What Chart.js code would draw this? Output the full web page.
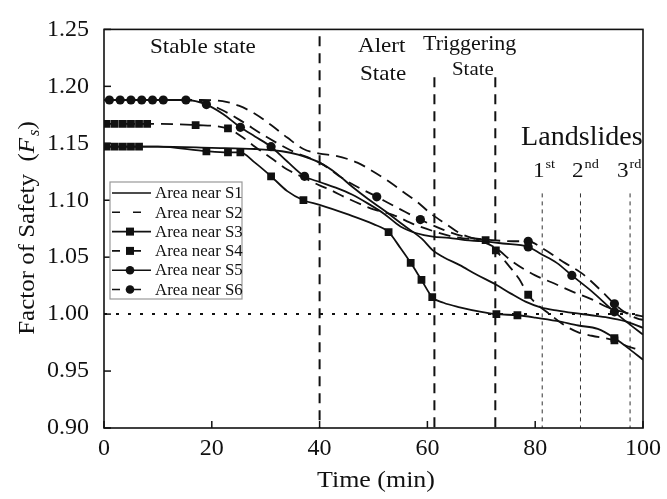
<!DOCTYPE html>
<html>
<head>
<meta charset="utf-8">
<script src="https://cdn.jsdelivr.net/npm/chart.js@4.4.0/dist/chart.umd.min.js"></script>
<style>
html, body { margin: 0; padding: 0; background: #fff; }
#wrap { width: 667px; height: 499px; }
</style>
</head>
<body>
<div id="wrap"><canvas id="c" width="667" height="499"></canvas></div>
<script>
// time (min), factor of safety
const s1Curve = [[0,1.147],[10,1.147],[20,1.146],[28,1.145],[33,1.143],[36,1.140],[40,1.133],[43,1.124],[46,1.112],[49,1.101],[52,1.091],[55.6,1.078],[59,1.066],[61,1.056],[63,1.050],[66,1.043],[69,1.035],[72.7,1.026],[75.5,1.018],[78.2,1.011],[81,1.006],[84.2,1.003],[87,1.001],[90.4,0.999],[93.5,0.997],[96.5,0.994],[100,0.988]]
const s2Curve = [[0,1.188],[10,1.188],[18,1.188],[22,1.187],[25,1.183],[28,1.176],[31,1.166],[34,1.155],[37,1.145],[40,1.141],[43,1.139],[47,1.133],[50,1.125],[53,1.116],[55.6,1.107],[58,1.099],[60.7,1.088],[63.5,1.079],[66,1.071],[70,1.064],[72.7,1.058],[75.8,1.046],[80,1.034],[83,1.028],[86.8,1.020],[90.5,1.013],[93.4,1.006],[97.8,1.000],[100,0.998]]
const s3Curve = [[0,1.147],[10,1.147],[19,1.143],[23,1.142],[25.3,1.142],[28,1.133],[31,1.121],[34,1.108],[37,1.100],[40,1.096],[45,1.088],[50,1.079],[52.8,1.072],[55,1.058],[56.9,1.045],[58.9,1.030],[60.9,1.015],[63,1.010],[66,1.006],[70,1.002],[72.8,1.000],[76.7,0.999],[80,0.997],[84,0.994],[88,0.990],[91.6,0.987],[94.7,0.979],[97,0.971],[100,0.960]]
const s3Marks = [[0.5,1.147],[2,1.147],[3.5,1.147],[5,1.147],[6.5,1.147],[19,1.143],[23,1.142],[25.3,1.142],[31,1.121],[37,1.100],[52.8,1.072],[56.9,1.045],[58.9,1.030],[60.9,1.015],[72.8,1.000],[76.7,0.999],[94.7,0.979]]
const s4Curve = [[0,1.167],[10,1.167],[17,1.166],[23,1.163],[25.5,1.156],[28,1.147],[31,1.137],[34,1.127],[37,1.120],[40,1.113],[42,1.109],[45,1.102],[50,1.092],[53.7,1.087],[57.4,1.079],[61,1.073],[64.8,1.068],[68,1.066],[70.8,1.065],[72.7,1.056],[75,1.043],[77,1.031],[78.7,1.017],[80.5,1.008],[82.4,1.001],[85.5,0.990],[88,0.984],[90.5,0.981],[94.7,0.977],[97,0.972],[99,0.969]]
const s4Marks = [[0.5,1.167],[2,1.167],[3.5,1.167],[5,1.167],[6.5,1.167],[8,1.167],[17,1.166],[23,1.163],[70.8,1.065],[72.7,1.056],[78.7,1.017],[94.7,0.977]]
const s5Curve = [[0,1.188],[10,1.188],[15.2,1.188],[19,1.184],[22,1.176],[25.3,1.164],[28,1.156],[31,1.147],[34,1.134],[37.2,1.121],[40,1.116],[43,1.111],[46,1.105],[49,1.097],[52,1.088],[55,1.077],[58,1.071],[61,1.068],[64,1.067],[67,1.065],[70,1.064],[74,1.062],[78.7,1.059],[81,1.053],[84,1.045],[86.8,1.034],[90.5,1.020],[94.7,1.002],[97,0.993],[100,0.982]]
const s5Marks = [[1,1.188],[3,1.188],[5,1.188],[7,1.188],[9,1.188],[11,1.188],[15.2,1.188],[19,1.184],[25.3,1.164],[31,1.147],[37.2,1.121],[78.7,1.059],[86.8,1.034],[94.7,1.002]]
const s6Curve = [[0,1.188],[10,1.188],[15.2,1.188],[19,1.185],[22,1.179],[25,1.171],[30,1.156],[35,1.143],[40,1.133],[45,1.117],[50.6,1.103],[55,1.092],[58.7,1.083],[63,1.074],[67,1.068],[72,1.065],[76,1.064],[78.7,1.064],[81.3,1.058],[85.5,1.045],[88.6,1.036],[92.8,1.018],[94.7,1.009],[96.5,1.002],[99,0.996],[100,0.995]]
const s6Marks = [[50.6,1.103],[58.7,1.083],[78.7,1.064],[94.7,1.009]]

const seriesNames = ['Area near S1','Area near S2','Area near S3','Area near S4','Area near S5','Area near S6']
const stageLines = [40, 61.3, 72.6]
const slideLines = [81.3, 88.4, 97.6]
const safeLevel = 1.00

const serif = '"Liberation Serif", "Times New Roman", serif'
const stretch = 1.1
const dash = [12, 7]
const pts = a => a.map(p => ({ x: p[0], y: p[1] }))

function curve(name, data, dashed) {
    return {
        label: name, data: pts(data), showLine: true, borderColor: '#111', borderWidth: 1.8,
        borderDash: dashed ? dash : [], pointRadius: 0, pointHoverRadius: 0, cubicInterpolationMode: 'monotone', fill: false
    }
}
function marks(name, data, style) {
    return {
        label: name, data: pts(data), showLine: false, pointStyle: style,
        pointRadius: style == 'rect' ? 5.5 : 4.6, backgroundColor: '#111', borderColor: '#111', borderWidth: 0
    }
}

// text drawn a little wider, like the stretched original
function txt(ctx, s, x, y, size, style, k) {
    k = k || stretch
    ctx.font = (style || '') + ' ' + size + 'px ' + serif
    ctx.save()
    ctx.translate(x, y)
    ctx.scale(k, 1)
    ctx.fillText(s, 0, 0)
    ctx.restore()
    return ctx.measureText(s).width * k
}

const overlay = {
    id: 'overlay',
    beforeDatasetsDraw(chart) {
        const { ctx, chartArea: a, scales: { x, y } } = chart
        ctx.save()
        ctx.strokeStyle = '#111'
        ctx.lineWidth = 2
        ctx.setLineDash([3, 9])
        const py = y.getPixelForValue(safeLevel)
        ctx.beginPath(); ctx.moveTo(a.left, py); ctx.lineTo(a.right, py); ctx.stroke()

        ctx.setLineDash([10, 7])
        stageLines.forEach((t, i) => {
            const px = x.getPixelForValue(t)
            ctx.beginPath(); ctx.moveTo(px, y.getPixelForValue(i == 0 ? 1.244 : 1.208)); ctx.lineTo(px, a.bottom); ctx.stroke()
        })
        ctx.lineWidth = 1
        ctx.strokeStyle = '#333'
        ctx.setLineDash([4, 4])
        slideLines.forEach((t) => {
            const px = x.getPixelForValue(t)
            ctx.beginPath(); ctx.moveTo(px, y.getPixelForValue(1.106)); ctx.lineTo(px, a.bottom); ctx.stroke()
        })
        ctx.restore()
    },
    afterDraw(chart) {
        const { ctx, chartArea: a, scales: { x, y } } = chart
        ctx.save()
        ctx.strokeStyle = '#111'
        ctx.fillStyle = '#111'
        ctx.setLineDash([])
        // frame
        ctx.lineWidth = 1.6
        ctx.strokeRect(a.left, a.top, a.right - a.left, a.bottom - a.top)
        // inner ticks
        ctx.lineWidth = 1.5
        x.ticks.forEach(t => {
            const px = x.getPixelForValue(t.value)
            ctx.beginPath(); ctx.moveTo(px, a.bottom); ctx.lineTo(px, a.bottom - 7); ctx.stroke()
        })
        y.ticks.forEach(t => {
            const py = y.getPixelForValue(t.value)
            ctx.beginPath(); ctx.moveTo(a.left, py); ctx.lineTo(a.left + 7, py); ctx.stroke()
        })

        // stage labels
        ctx.textBaseline = 'alphabetic'
        ctx.textAlign = 'left'
        txt(ctx, 'Stable state', 150, 53, 21)
        txt(ctx, 'Alert', 358, 52, 21)
        txt(ctx, 'State', 360, 80, 21)
        txt(ctx, 'Triggering', 423, 50, 20)
        txt(ctx, 'State', 452, 75, 19)
        txt(ctx, 'Landslides', 521, 145, 26.5, '', 1.06)
        const sup = [['1', 'st', 533], ['2', 'nd', 572], ['3', 'rd', 617]]
        sup.forEach(s => {
            const w = txt(ctx, s[0], s[2], 177, 21)
            txt(ctx, s[1], s[2] + w + 1, 168, 13)
        })

        // axis titles
        const tw = txt(ctx, 'Time (min)', 0, -100, 24, '', 1.08)
        txt(ctx, 'Time (min)', 376 - tw / 2, 487, 24, '', 1.08)
        const parts = [['Factor of Safety  (', '', 24, 0], ['F', 'italic', 24, 0], ['s', 'italic', 16, 5], [')', '', 24, 0]]
        ctx.translate(34, 228)
        ctx.rotate(-Math.PI / 2)
        let w = 0
        parts.forEach(p => { ctx.font = p[1] + ' ' + p[2] + 'px ' + serif; w += ctx.measureText(p[0]).width * 1.04 + (p[0] == 'F' ? 2 : 0) })
        let cx = -w / 2
        parts.forEach(p => { cx += txt(ctx, p[0], cx, p[3], p[2], p[1], 1.04) + (p[0] == 'F' ? 2 : 0) })
        ctx.setTransform(1, 0, 0, 1, 0, 0)

        // legend
        const lx = 110, ly = 182, lw = 132, lh = 117
        ctx.fillStyle = '#fff'
        ctx.fillRect(lx, ly, lw, lh)
        ctx.strokeStyle = '#999'
        ctx.lineWidth = 1.2
        ctx.strokeRect(lx, ly, lw, lh)
        ctx.strokeStyle = '#111'
        ctx.fillStyle = '#111'
        ctx.textBaseline = 'middle'
        seriesNames.forEach((n, i) => {
            const ry = 193 + i * 19.3
            ctx.lineWidth = 1.6
            ctx.setLineDash(i % 2 == 1 ? [8, 13] : [])
            ctx.beginPath(); ctx.moveTo(112, ry); ctx.lineTo(151, ry); ctx.stroke()
            ctx.setLineDash([])
            if (i == 2 || i == 3) ctx.fillRect(126, ry - 4, 8, 8)
            if (i == 4 || i == 5) { ctx.beginPath(); ctx.arc(130, ry, 4.3, 0, Math.PI * 2); ctx.fill() }
            txt(ctx, n, 155, ry + 1, 16, '', 1.05)
        })
        ctx.restore()
    }
}

new Chart(document.getElementById('c'), {
    type: 'scatter',
    data: {
        datasets: [
            curve(seriesNames[0], s1Curve, false),
            curve(seriesNames[1], s2Curve, true),
            curve(seriesNames[2], s3Curve, false),
            marks(seriesNames[2], s3Marks, 'rect'),
            curve(seriesNames[3], s4Curve, true),
            marks(seriesNames[3], s4Marks, 'rect'),
            curve(seriesNames[4], s5Curve, false),
            marks(seriesNames[4], s5Marks, 'circle'),
            curve(seriesNames[5], s6Curve, true),
            marks(seriesNames[5], s6Marks, 'circle')
        ]
    },
    options: {
        responsive: false,
        animation: false,
        layout: { padding: { left: 0, right: 18, top: 16, bottom: 0 } },
        plugins: { legend: { display: false }, tooltip: { enabled: false } },
        scales: {
            x: {
                type: 'linear', min: 0, max: 100,
                grid: { display: false, drawTicks: false },
                border: { display: false },
                ticks: { stepSize: 20, padding: 6, color: '#111', font: { family: serif, size: 24 } },
                afterFit: (s) => { s.height = 71 }
            },
            y: {
                type: 'linear', min: 0.9, max: 1.25,
                grid: { display: false, drawTicks: false },
                border: { display: false },
                ticks: { stepSize: 0.05, padding: 15, color: '#111', font: { family: serif, size: 24 }, callback: (v) => v.toFixed(2) },
                afterFit: (s) => { s.width = 104 }
            }
        }
    },
    plugins: [overlay]
})
</script>
</body>
</html>
